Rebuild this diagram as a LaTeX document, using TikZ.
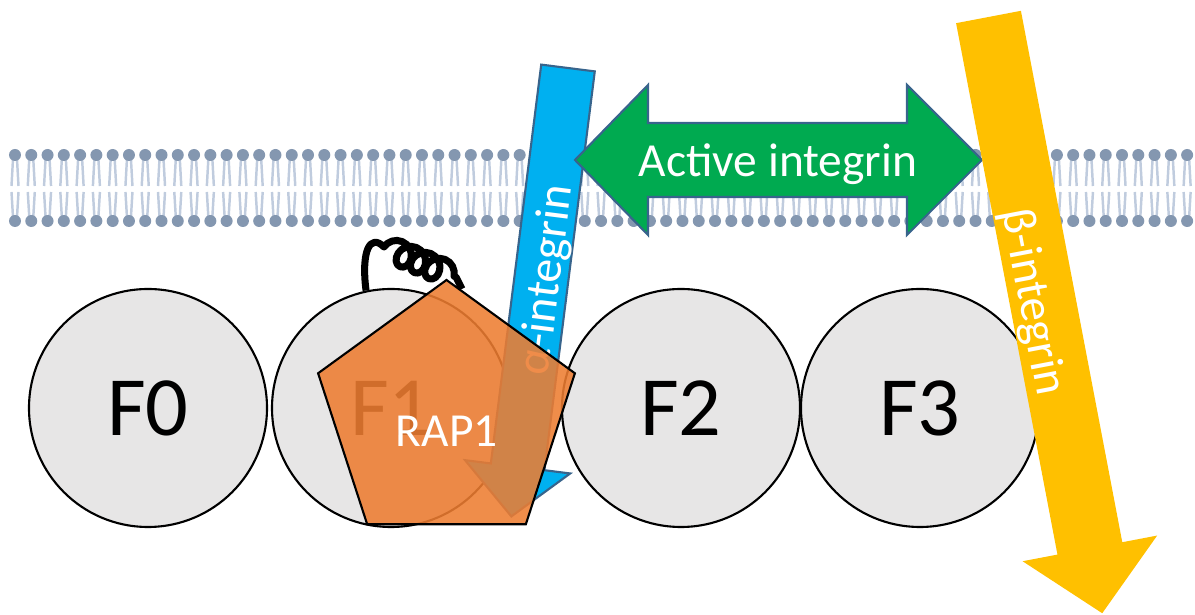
\documentclass[tikz,border=0pt]{standalone}
\usepackage{fontspec}
\setmainfont{Carlito}
\usepackage{tikz}
\usetikzlibrary{shapes.geometric,decorations.pathmorphing}
\usepackage{xcolor}
\definecolor{headgrey}{RGB}{132,151,176}
\definecolor{tailgrey}{RGB}{192,204,222}
\definecolor{domaingrey}{RGB}{231,230,230}
\definecolor{raporange}{RGB}{237,125,49}
\definecolor{alphablue}{RGB}{0,176,240}
\definecolor{betagold}{RGB}{255,192,0}
\definecolor{activegreen}{RGB}{0,170,80}
\definecolor{edgeblue}{RGB}{56,100,140}

\begin{document}
\begin{tikzpicture}[
    fdomain/.style={circle,draw=black,line width=0.6pt,fill=domaingrey,
      minimum size=2.38cm,inner sep=0pt,font=\fontsize{24}{28}\selectfont},
    armlabel/.style={text=white,inner sep=0pt,
      font=\fontsize{13.5}{16}\selectfont}
  ]
    \useasboundingbox (0,0) rectangle (11.95,6.15);
    % Lipid bilayer
    \foreach \i in {0,...,72}{
      \pgfmathsetmacro{\hx}{0.15+0.1628*\i}
      \draw[tailgrey,line width=0.7pt]
        (\hx-0.02,4.56) -- (\hx-0.035,4.29) (\hx+0.02,4.56) -- (\hx+0.035,4.29)
        (\hx-0.035,4.23) -- (\hx-0.02,3.98) (\hx+0.035,4.23) -- (\hx+0.02,3.98);
      \fill[headgrey] (\hx,4.60) circle (0.06) (\hx,3.94) circle (0.06);
    }
    % Talin domains
    \node[fdomain] (f0) at (1.48,2.07) {F0};
    \node[fdomain] (f1) at (3.91,2.07) {F1};
    \node[fdomain] (f2) at (6.81,2.07) {F2};
    \node[fdomain] (f3) at (9.20,2.07) {F3};
    % Coiled linker on F1
    \draw[line width=2pt,line join=round]
      (f1.102) .. controls (3.61,3.64) and (3.70,3.82) .. (3.84,3.68)
      decorate[decoration={coil,amplitude=1.2mm,segment length=1.55mm,
        aspect=0.9}]
      {-- (4.56,3.38)} -- (4.62,3.26);
    % alpha-integrin arm
    \begin{scope}[shift={(5.68,5.47)},rotate=-7.2]
      \draw[edgeblue,line width=0.6pt,fill=alphablue]
        (-0.27,0) -- (0.27,0) -- (0.27,-4.02) -- (0.53,-4.02) -- (0,-4.52)
        -- (-0.53,-4.02) -- (-0.27,-4.02) -- cycle;
      \node[armlabel,transform shape,rotate=90] (alpha) at (0.065,-2.13)
        {α-integrin};
    \end{scope}
    % RAP1
    \node[regular polygon,regular polygon sides=5,minimum size=2.7cm,
      inner sep=0pt,draw=black,line width=0.6pt,fill=raporange,
      fill opacity=0.88] (rap) at (4.465,2.0) {};
    \node[armlabel,anchor=base] (raplabel) at (4.467,1.68) {RAP1};
    % Active integrin
    \draw[edgeblue,line width=0.6pt,fill=activegreen]
      (5.75,4.55) -- (6.48,5.30) -- (6.48,4.92) -- (9.07,4.92) -- (9.07,5.30)
      -- (9.82,4.55) -- (9.07,3.80) -- (9.07,4.18) -- (6.48,4.18)
      -- (6.48,3.80) -- cycle;
    \node[armlabel,anchor=base] (active) at (7.78,4.38) {Active integrin};
    % beta-integrin arm
    \begin{scope}[shift={(9.885,5.98)},rotate=10.8]
      \fill[betagold]
        (-0.33,0) -- (0.33,0) -- (0.33,-5.41) -- (0.685,-5.41) -- (0,-6.07)
        -- (-0.685,-5.41) -- (-0.33,-5.41) -- cycle;
      \node[armlabel,transform shape,rotate=-90] (beta) at (-0.107,-2.884)
        {β-integrin};
    \end{scope}
\end{tikzpicture}
\end{document}
